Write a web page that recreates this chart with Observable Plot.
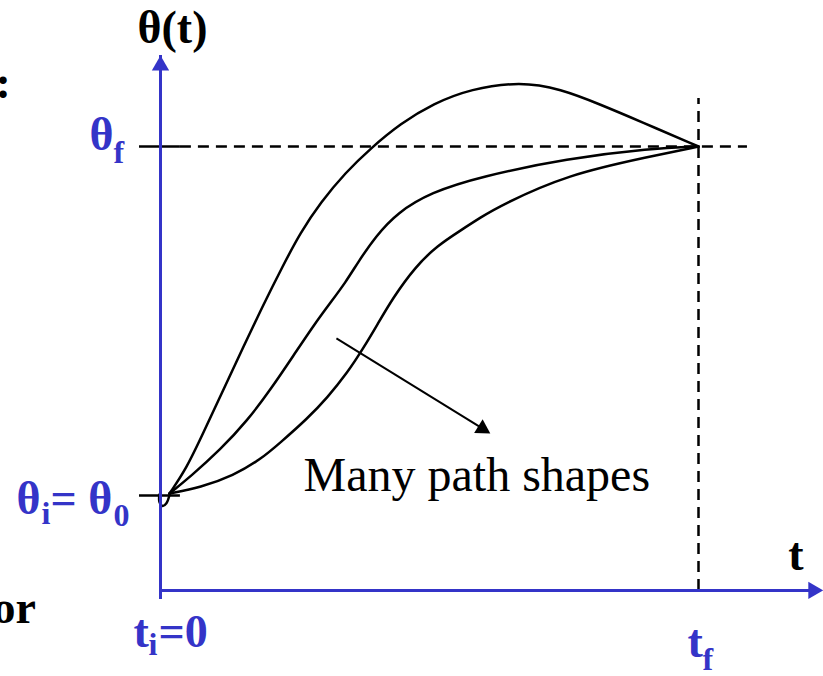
<!DOCTYPE html>
<html>
<head>
<meta charset="utf-8">
<script src="https://cdn.jsdelivr.net/npm/d3@7"></script>
<script src="https://cdn.jsdelivr.net/npm/@observablehq/plot@0.6"></script>
<style>
  html, body { margin: 0; padding: 0; background: #ffffff; }
  #chart svg { display: block; }
</style>
</head>
<body>
<div id="chart"></div>
<script>
// Joint trajectory θ(t): start at ti = 0 with θi = θ0, reach θf at tf.
// Time is normalised so that tf = 1, angle so that θf − θi = 1.
const tStart = 0, tEnd = 1;
const thetaStart = 0, thetaEnd = 1;

// Extents of the drawn t and θ axes
const tAxisRange = [0, 1.232];
const thetaAxisRange = [-0.272, 1.261];

// Boundary-condition guides: solid ticks at the θ labels, dashed guides to tf / θf
const tickSpan = [-0.039, 0.037];
const thetaGuideEnd = 1.091;   // horizontal dashed guide at θf ends here (t)
const tGuideTop = 1.1375;      // vertical dashed guide at tf starts here (θ)

// Three of the many possible paths, as [t, θ]
const upperPath = [
  [0.0167, 0.0057], [0.0483, 0.0774], [0.0799, 0.1805], [0.1171, 0.3037], [0.1543, 0.4269],
  [0.1896, 0.5415], [0.2268, 0.6562], [0.2602, 0.7536], [0.2974, 0.8395], [0.3439, 0.9255],
  [0.3903, 0.9943], [0.4461, 1.0659], [0.5074, 1.1232], [0.5762, 1.1650], [0.6691, 1.1860],
  [0.7435, 1.1650], [0.8178, 1.1203], [0.8922, 1.0716], [1.0000, 1.0000]
];
const middlePath = [
  [0.0167, 0.0057], [0.0558, 0.0544], [0.1115, 0.1318], [0.1617, 0.2149], [0.2045, 0.3037],
  [0.2472, 0.4011], [0.2844, 0.4871], [0.3160, 0.5530], [0.3439, 0.6103], [0.3680, 0.6705],
  [0.3996, 0.7421], [0.4405, 0.8109], [0.5019, 0.8682], [0.5948, 0.9140], [0.7565, 0.9656],
  [0.9108, 0.9943], [1.0000, 1.0000]
];
const lowerPath = [
  [0.0167, 0.0057], [0.0743, 0.0229], [0.1357, 0.0573], [0.1859, 0.1032], [0.2230, 0.1519],
  [0.2732, 0.2206], [0.3104, 0.2808], [0.3476, 0.3524], [0.3755, 0.4183], [0.4033, 0.4900],
  [0.4312, 0.5645], [0.4740, 0.6562], [0.5149, 0.7163], [0.5576, 0.7593], [0.5948, 0.7966],
  [0.6320, 0.8309], [0.7565, 0.9198], [0.9108, 0.9713], [1.0000, 1.0000]
];
// little hook where the pen starts at (ti, θi)
const startHook = [[-0.002, 0.003], [-0.002, -0.018], [0.004, -0.030], [0.011, -0.022], [0.017, 0.003]];

// Callout pointing at the bundle of paths
const calloutFrom = [0.327, 0.450];
const calloutTo = [0.613, 0.178];
const calloutText = "Many path shapes";

const paths = [
  ...upperPath.map(([t, theta]) => ({t, theta, path: "upper"})),
  ...middlePath.map(([t, theta]) => ({t, theta, path: "middle"})),
  ...lowerPath.map(([t, theta]) => ({t, theta, path: "lower"}))
];
const hook = startHook.map(([t, theta]) => ({t, theta}));

const blue = "#3434c8";
const serif = "'Liberation Serif', 'Times New Roman', Times, serif";

const xScale = {domain: [tStart, tEnd], range: [160, 698], axis: null};
const yScale = {domain: [thetaStart, thetaEnd], range: [495, 146], axis: null};
const xs = Plot.scale({x: xScale});
const ys = Plot.scale({y: yScale});

// Filled arrowhead: a rotated triangle symbol whose tip sits on the given point
function arrowHead(tip, from, length, fill) {
  const px = xs.apply(tip[0]), py = ys.apply(tip[1]);
  const fx = xs.apply(from[0]), fy = ys.apply(from[1]);
  const len = Math.hypot(px - fx, py - fy);
  const ux = (px - fx) / len, uy = (py - fy) / len;
  const h = length / 3;                       // d3 triangle: tip is 2h from its centre
  const cx = px - ux * 2 * h, cy = py - uy * 2 * h;
  const r = Math.sqrt(3 * Math.sqrt(3) * h * h / Math.PI);
  const rotate = Math.atan2(ux, -uy) * 180 / Math.PI;
  return Plot.dot([{t: xs.invert(cx), theta: ys.invert(cy)}], {
    x: "t", y: "theta", symbol: "triangle", r, rotate, fill, stroke: "none"
  });
}

// Callout shaft stops inside its arrowhead
function shortened(from, to, px) {
  const x0 = xs.apply(from[0]), y0 = ys.apply(from[1]);
  const x1 = xs.apply(to[0]), y1 = ys.apply(to[1]);
  const len = Math.hypot(x1 - x0, y1 - y0);
  const k = (len - px) / len;
  return [xs.invert(x0 + (x1 - x0) * k), ys.invert(y0 + (y1 - y0) * k)];
}

function label(text, t, theta, {dx = 0, dy = 0, size = 46, weight = "bold", fill = blue, anchor = "start"} = {}) {
  return Plot.text([{t, theta, text}], {
    x: "t", y: "theta", text: "text", dx, dy,
    fontSize: size, fontWeight: weight, fill, fontFamily: serif,
    textAnchor: anchor, lineAnchor: "bottom"
  });
}

function frameLabel(text, dx, dy) {
  return Plot.text([text], {
    frameAnchor: "top-left", dx, dy, fontSize: 46, fontWeight: "bold",
    fill: "black", fontFamily: serif, textAnchor: "start", lineAnchor: "bottom"
  });
}

const headLen = 15;
const calloutEnd = shortened(calloutFrom, calloutTo, 7);
const thetaAxisBase = thetaAxisRange[0];
const tAxisTip = tAxisRange[1];
const thetaAxisTip = thetaAxisRange[1];

const chart = Plot.plot({
  width: 823,
  height: 676,
  margin: 0,
  x: xScale,
  y: yScale,
  style: {background: "#ffffff", fontFamily: serif},
  marks: [
    // dashed guides to θf and tf
    Plot.ruleY([{theta: thetaEnd, x1: tickSpan[1], x2: thetaGuideEnd}], {
      y: "theta", x1: "x1", x2: "x2", stroke: "black", strokeWidth: 2.5, strokeDasharray: "11,7"
    }),
    Plot.ruleX([{t: tEnd, y1: thetaAxisBase, y2: tGuideTop}], {
      x: "t", y1: "y1", y2: "y2", stroke: "black", strokeWidth: 2.5, strokeDasharray: "11,7"
    }),
    // solid ticks at θf and θi
    Plot.ruleY([thetaEnd, thetaStart], {
      x1: tickSpan[0], x2: tickSpan[1], stroke: "black", strokeWidth: 2.5
    }),
    // the paths
    Plot.line(paths, {
      x: "t", y: "theta", z: "path", curve: "basis",
      stroke: "black", strokeWidth: 2.5, strokeLinejoin: "round", strokeLinecap: "round"
    }),
    Plot.line(hook, {
      x: "t", y: "theta", curve: "catmull-rom",
      stroke: "black", strokeWidth: 2.5, strokeLinecap: "round"
    }),
    // axes
    Plot.ruleX([{t: tStart, y1: thetaAxisBase, y2: thetaAxisTip}], {
      x: "t", y1: "y1", y2: "y2", stroke: blue, strokeWidth: 3, insetTop: headLen * 0.6
    }),
    Plot.ruleY([{theta: thetaAxisBase, x1: tStart, x2: tAxisTip}], {
      y: "theta", x1: "x1", x2: "x2", stroke: blue, strokeWidth: 3, insetRight: headLen * 0.6
    }),
    arrowHead([tStart, thetaAxisTip], [tStart, thetaAxisBase], headLen, blue),
    arrowHead([tAxisTip, thetaAxisBase], [tStart, thetaAxisBase], headLen, blue),
    // callout
    Plot.link([{x1: calloutFrom[0], y1: calloutFrom[1], x2: calloutEnd[0], y2: calloutEnd[1]}], {
      x1: "x1", y1: "y1", x2: "x2", y2: "y2", stroke: "black", strokeWidth: 2
    }),
    arrowHead(calloutTo, calloutFrom, 14, "black"),
    label(calloutText, 0.2658, 0.0143, {size: 48, weight: "normal", fill: "black"}),
    // axis titles
    label("θ(t)", tStart, thetaAxisTip, {dx: -23, dy: -12, fill: "black"}),
    label("t", tAxisTip, thetaAxisBase, {dx: -35, dy: -20, fill: "black"}),
    // boundary values on θ
    label("θ", tStart, thetaEnd, {dx: -47, dy: 3, anchor: "end"}),
    label("f", tStart, thetaEnd, {dx: -47, dy: 16, size: 32}),
    label("θ", tStart, thetaStart, {dx: -120, dy: 18, anchor: "end"}),
    label("i", tStart, thetaStart, {dx: -119, dy: 28, size: 32}),
    label("= θ", tStart, thetaStart, {dx: -110, dy: 18}),
    label("0", tStart, thetaStart, {dx: -47, dy: 30, size: 32}),
    // boundary values on t
    label("t", tStart, thetaAxisBase, {dx: -27, dy: 57}),
    label("i", tStart, thetaAxisBase, {dx: -12, dy: 65, size: 32}),
    label("=0", tStart, thetaAxisBase, {dx: -2, dy: 57}),
    label("t", tEnd, thetaAxisBase, {dx: -11, dy: 67}),
    label("f", tEnd, thetaAxisBase, {dx: 4, dy: 80, size: 32}),
    // slide text running in from the left
    frameLabel(":", -5, 97),
    frameLabel("or", -8, 622)
  ]
});

document.getElementById("chart").appendChild(chart);
</script>
</body>
</html>
